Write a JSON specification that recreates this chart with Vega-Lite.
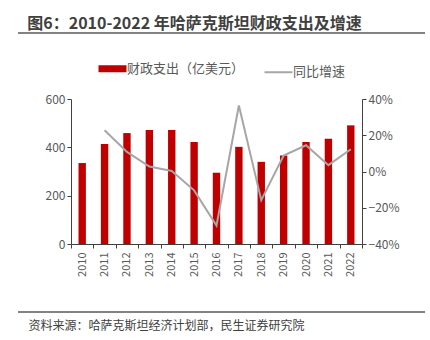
{
  "$schema": "https://vega.github.io/schema/vega-lite/v6.json",
  "autosize": {"type": "none"},
  "padding": {"left": 71, "top": 99, "right": 68, "bottom": 96},
  "width": 291,
  "height": 145,
  "config": {
    "view": {"stroke": null},
    "font": "Noto Sans CJK SC",
    "axis": {"labelFont": "Noto Sans CJK SC", "labelColor": "#595959", "domainColor": "#404040", "tickColor": "#404040", "grid": false, "labelFontSize": 12, "tickSize": 4}
  },
  "title": {"text": "图6：2010-2022 年哈萨克斯坦财政支出及增速", "anchor": "start", "fontSize": 16, "fontWeight": "bold", "color": "#404040", "offset": 0, "dx": 10},
  "layer": [
    {
      "data": {"values": [
        {"year": "2010", "spend": 335, "growth": null},
        {"year": "2011", "spend": 414, "growth": 0.228},
        {"year": "2012", "spend": 459, "growth": 0.108},
        {"year": "2013", "spend": 472, "growth": 0.027},
        {"year": "2014", "spend": 472, "growth": 0.003},
        {"year": "2015", "spend": 422, "growth": -0.104},
        {"year": "2016", "spend": 295, "growth": -0.298},
        {"year": "2017", "spend": 402, "growth": 0.364},
        {"year": "2018", "spend": 340, "growth": -0.158},
        {"year": "2019", "spend": 366, "growth": 0.088},
        {"year": "2020", "spend": 422, "growth": 0.145},
        {"year": "2021", "spend": 436, "growth": 0.035},
        {"year": "2022", "spend": 491, "growth": 0.123}
      ]},
      "encoding": {
        "x": {"field": "year", "type": "ordinal", "scale": {"paddingInner": 0, "paddingOuter": 0},
          "axis": {"title": "资料来源：哈萨克斯坦经济计划部，民生证券研究院", "titleFontSize": 12, "titleFontWeight": "normal", "titleColor": "#404040", "titleAnchor": "start", "titleAlign": "left", "titleBaseline": "middle", "titleX": -43, "titleY": 81,
            "labelAngle": -90, "labelFontSize": 11, "tickBand": "extent", "labelPadding": 4}}
      },
      "layer": [
        {
          "mark": {"type": "bar", "width": {"band": 0.33}},
          "encoding": {
            "y": {"field": "spend", "type": "quantitative", "scale": {"domain": [0, 600]}, "axis": {"title": null, "values": [0, 200, 400, 600]}},
            "color": {"datum": "财政支出（亿美元）", "type": "nominal",
              "scale": {"domain": ["财政支出（亿美元）", "同比增速"], "range": ["#C00000", "#A6A6A6"]},
              "legend": {"title": null, "orient": "none", "direction": "horizontal", "legendX": 35, "legendY": -37,
                "symbolType": "stroke", "symbolSize": 784, "columnPadding": 15, "labelOffset": 8, "labelFontSize": 13, "labelColor": "#595959", "labelFont": "Noto Sans CJK SC",
                "encode": {"symbols": {"update": {"stroke": {"signal": "scale('color', datum.value)"}, "strokeWidth": {"signal": "datum.value === '同比增速' ? 2 : 7"}}}}}
            }
          }
        },
        {
          "mark": {"type": "line", "interpolate": "linear", "strokeWidth": 2},
          "encoding": {
            "y": {"field": "growth", "type": "quantitative", "scale": {"domain": [-0.4, 0.4]}, "axis": {"title": null, "orient": "right", "format": ".0%", "values": [-0.4, -0.2, 0, 0.2, 0.4]}},
            "color": {"datum": "同比增速", "type": "nominal"}
          }
        }
      ],
      "resolve": {"scale": {"y": "independent"}}
    },
    {
      "data": {"values": [{"k": 0}]},
      "mark": {"type": "rule", "color": "#595959", "strokeWidth": 1.5, "clip": false},
      "encoding": {
        "x": {"datum": -0.182, "type": "quantitative", "scale": {"domain": [0, 1]}, "axis": null},
        "x2": {"datum": 1.2165},
        "y": {"datum": 1.455, "type": "quantitative", "scale": {"domain": [0, 1]}, "axis": null}
      }
    },
    {
      "data": {"values": [{"k": 0}]},
      "mark": {"type": "rule", "color": "#595959", "strokeWidth": 1.5, "clip": false},
      "encoding": {
        "x": {"datum": -0.182, "type": "quantitative", "scale": {"domain": [0, 1]}, "axis": null},
        "x2": {"datum": 1.2165},
        "y": {"datum": -0.469, "type": "quantitative", "scale": {"domain": [0, 1]}, "axis": null}
      }
    }
  ],
  "resolve": {"scale": {"y": "independent", "x": "independent"}}
}
